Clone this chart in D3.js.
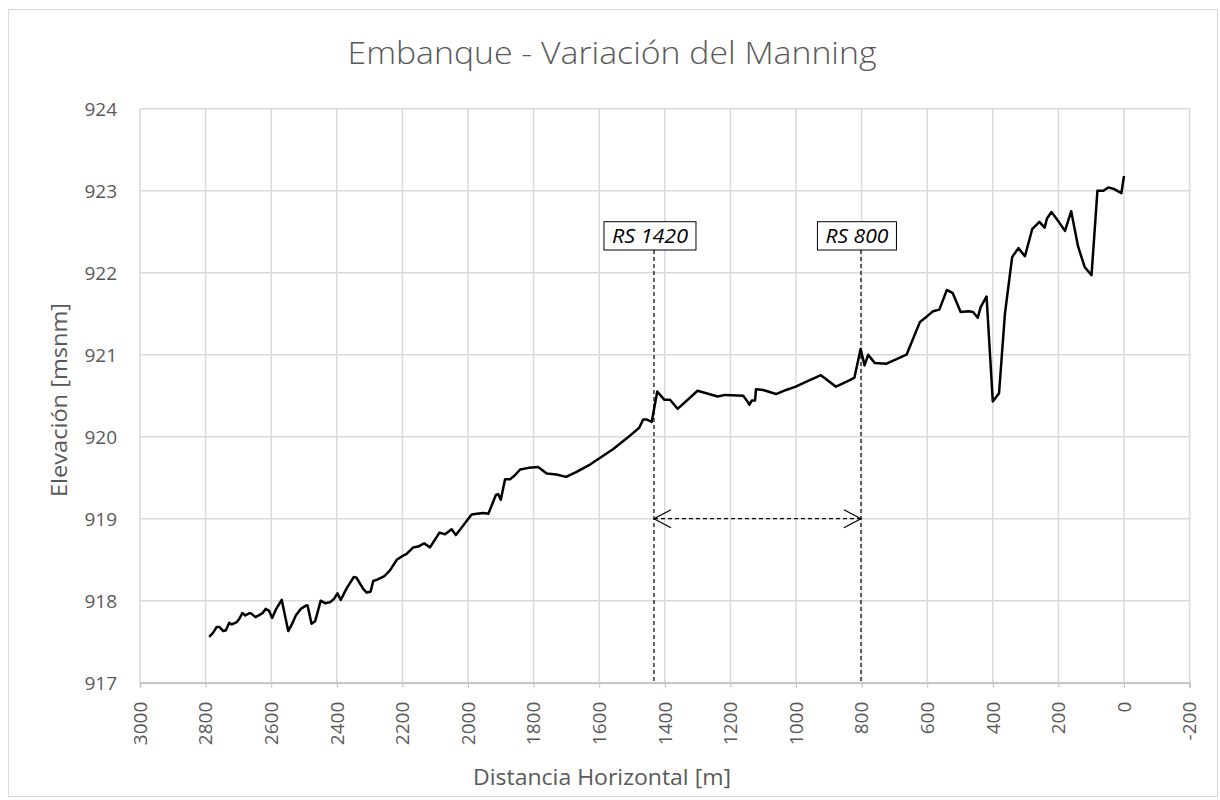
<!DOCTYPE html>
<html><head><meta charset="utf-8">
<script src="https://cdn.jsdelivr.net/npm/d3@7"></script>
<style>body{margin:0;background:#fff}svg{display:block}</style>
</head><body><svg id="c" width="1220" height="800"></svg>
<script>
const distance = [2789,2777,2766,2758,2746,2738,2728,2720,2705,2697,2688,2679,2665,2660,2648,2634,2626,2617,2607,2597,2586,2568,2548,2536,2525,2510,2494,2489,2477,2466,2449,2436,2421,2409,2398,2388,2370,2348,2340,2319,2309,2297,2289,2275,2255,2238,2217,2202,2187,2167,2152,2134,2116,2087,2070,2050,2037,2014,1989,1973,1953,1938,1915,1908,1900,1887,1872,1857,1841,1815,1786,1760,1730,1701,1669,1628,1598,1557,1516,1478,1466,1456,1440,1423,1401,1384,1361,1300,1239,1216,1161,1150,1142,1135,1125,1122,1100,1061,1030,1001,963,924,878,836,822,803,791,780,760,724,663,622,600,582,563,540,522,498,473,460,446,437,419,400,381,363,341,322,302,280,258,242,235,221,199,180,161,140,120,99,81,63,48,30,8,0];
const elevation = [917.56,917.61,917.68,917.68,917.63,917.64,917.73,917.71,917.74,917.78,917.85,917.82,917.85,917.84,917.80,917.83,917.85,917.90,917.88,917.79,917.89,918.01,917.63,917.72,917.82,917.90,917.94,917.94,917.72,917.75,918.00,917.97,917.98,918.02,918.09,918.01,918.15,918.29,918.28,918.14,918.10,918.11,918.24,918.26,918.30,918.37,918.50,918.54,918.57,918.65,918.66,918.70,918.65,918.83,918.81,918.87,918.80,918.92,919.05,919.06,919.07,919.06,919.29,919.30,919.23,919.48,919.48,919.53,919.60,919.62,919.63,919.55,919.54,919.51,919.57,919.66,919.74,919.85,919.98,920.11,920.21,920.21,920.18,920.55,920.45,920.45,920.34,920.56,920.49,920.51,920.50,920.44,920.39,920.44,920.44,920.58,920.57,920.52,920.57,920.61,920.68,920.75,920.61,920.69,920.72,921.07,920.87,921.00,920.90,920.89,921.00,921.40,921.47,921.53,921.55,921.79,921.75,921.52,921.53,921.52,921.45,921.58,921.71,920.43,920.53,921.50,922.19,922.30,922.20,922.53,922.62,922.55,922.66,922.74,922.62,922.51,922.75,922.32,922.07,921.97,923.00,923.00,923.04,923.02,922.97,923.18];
const xTicks = [3000,2800,2600,2400,2200,2000,1800,1600,1400,1200,1000,800,600,400,200,0,-200];
const yTicks = [917,918,919,920,921,922,923,924];
const sectionLabels = ["RS 1420","RS 800"];
const sectionPos = [1433,802];
const arrowLevel = [919];
const title = "Embanque - Variación del Manning";
const xTitle = "Distancia Horizontal [m]";
const yTitle = "Elevación [msnm]";

const svg = d3.select("#c");
const font = "'Open Sans', sans-serif";
const L=140, R=1189.6, T=108.7, B=682.7;
const x = d3.scaleLinear().domain([3000,-200]).range([L,R]);
const y = d3.scaleLinear().domain([917,924]).range([B,T]);
const grid = "#d9d9d9";

svg.append("rect").attr("x",8.5).attr("y",9.5).attr("width",1209).attr("height",787)
  .attr("fill","#fff").attr("stroke","#d9d9d9").attr("stroke-width",1);

// gridlines
svg.append("g").selectAll("line").data(xTicks).join("line")
  .attr("x1",d=>x(d)).attr("x2",d=>x(d)).attr("y1",T).attr("y2",B)
  .attr("stroke",grid).attr("stroke-width",1.5);
svg.append("g").selectAll("line").data(yTicks).join("line")
  .attr("x1",L).attr("x2",R).attr("y1",d=>y(d)).attr("y2",d=>y(d))
  .attr("stroke",grid).attr("stroke-width",1.5);

// x axis ticks
const xa = svg.append("g").attr("transform",`translate(0,${B})`)
  .call(d3.axisBottom(x).tickValues(xTicks).tickSize(5).tickFormat(""));
xa.select(".domain").attr("stroke","#bfbfbf").attr("stroke-width",1.5);
xa.selectAll(".tick line").attr("stroke","#bfbfbf");

svg.append("g").selectAll("text").data(xTicks).join("text")
  .attr("transform",d=>`translate(${x(d)},${B+19}) rotate(-90)`)
  .attr("text-anchor","end").attr("dy","0.36em")
  .attr("font-family",font).attr("font-size",19).attr("fill","#595959")
  .text(d=>d);

svg.append("g").selectAll("text").data(yTicks).join("text")
  .attr("x",117).attr("y",d=>y(d)).attr("dy","0.36em").attr("text-anchor","end")
  .attr("font-family",font).attr("font-size",19).attr("fill","#595959")
  .text(d=>d);

// data line
const line = d3.line().x((d,i)=>x(distance[i])).y((d,i)=>y(elevation[i]));
svg.append("path").datum(elevation).attr("d",line)
  .attr("fill","none").attr("stroke","#000").attr("stroke-width",2.5).attr("stroke-linejoin","round");

// section markers
const boxTop = 221.7, boxH = 28.3;
const labelLen = [76,63];
sectionLabels.forEach((lab,i)=>{
  const px = x(sectionPos[i]);
  const g = svg.append("g");
  g.append("line").attr("x1",px).attr("x2",px).attr("y1",boxTop+boxH).attr("y2",B)
    .attr("stroke","#000").attr("stroke-width",1.2).attr("stroke-dasharray","4,3");
  const r = g.append("rect");
  const t = g.append("text").attr("x",px-4).attr("y",boxTop+boxH/2).attr("dy","0.36em")
    .attr("text-anchor","middle").attr("font-family",font).attr("font-style","italic")
    .attr("font-size",20).attr("fill","#000")
    .attr("textLength",labelLen[i]).attr("lengthAdjust","spacingAndGlyphs").text(lab);
  const w = labelLen[i] + 16;
  r.attr("x",px-4-w/2).attr("y",boxTop).attr("width",w).attr("height",boxH)
    .attr("fill","#fff").attr("stroke","#000").attr("stroke-width",1);
});

// double arrow
const ay = y(arrowLevel[0]), ax1 = x(sectionPos[0]), ax2 = x(sectionPos[1]);
svg.append("line").attr("x1",ax1).attr("x2",ax2).attr("y1",ay).attr("y2",ay)
  .attr("stroke","#000").attr("stroke-width",1.2).attr("stroke-dasharray","4,3");
svg.append("path").attr("d",`M${ax1+17},${ay-9}L${ax1},${ay}L${ax1+17},${ay+9}`)
  .attr("fill","none").attr("stroke","#000").attr("stroke-width",1.2);
svg.append("path").attr("d",`M${ax2-17},${ay-9}L${ax2},${ay}L${ax2-17},${ay+9}`)
  .attr("fill","none").attr("stroke","#000").attr("stroke-width",1.2);

// titles
svg.append("text").attr("x",612).attr("y",64).attr("text-anchor","middle")
  .attr("font-family",font).attr("font-size",31).attr("font-weight",300).attr("fill","#595959")
  .attr("textLength",529).attr("lengthAdjust","spacingAndGlyphs").text(title);
svg.append("text").attr("x",602).attr("y",785).attr("text-anchor","middle")
  .attr("font-family",font).attr("font-size",21).attr("fill","#595959")
  .attr("textLength",258).attr("lengthAdjust","spacingAndGlyphs").text(xTitle);
svg.append("text").attr("transform",`translate(67,${400}) rotate(-90)`).attr("text-anchor","middle")
  .attr("font-family",font).attr("font-size",22).attr("fill","#595959")
  .attr("textLength",194).attr("lengthAdjust","spacingAndGlyphs").text(yTitle);
</script></body></html>
